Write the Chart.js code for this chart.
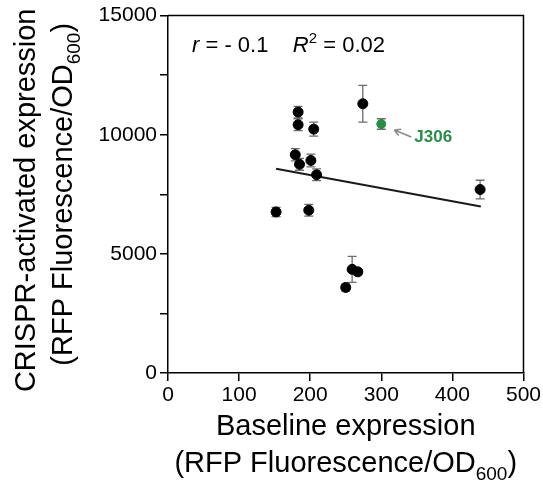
<!DOCTYPE html>
<html>
<head>
<meta charset="utf-8">
<script src="https://cdn.jsdelivr.net/npm/chart.js@4.4.1/dist/chart.umd.min.js"></script>
<style>
  html, body { margin: 0; padding: 0; background: #fff; }
  #wrap { width: 543px; height: 482px; }
</style>
</head>
<body>
<div id="wrap"><canvas id="c" width="543" height="482"></canvas></div>
<script>
// ---- data ----
const baseline  = [152, 183, 183, 205, 179, 185, 201, 209, 198, 274, 439, 250, 259, 267];
const activated = [6760, 10950, 10420, 10235, 9160, 8760, 8920, 8320, 6830, 11300, 7700, 3590, 4350, 4245];
const actErr    = [195, 240, 250, 295, 260, 250, 265, 250, 245, 770, 390, 150, 545, 110];

const j306X = [300];
const j306Y = [10450];
const j306Err = [220];
const j306Label = 'J306';

const trendX = [152, 440];
const trendY = [8570, 6990];

const xTicks = [0, 100, 200, 300, 400, 500];
const yTicks = [0, 5000, 10000, 15000];

const statText = { r: '- 0.1', R2: '0.02' };

const FONT = '"Liberation Sans", Arial, sans-serif';
const GREEN = '#2b8c4a';

function toPts(xs, ys) { return xs.map((x, i) => ({ x: x, y: ys[i] })); }

// error bars, drawn through the scales
const errorBarPlugin = {
  id: 'errbars',
  beforeDatasetsDraw(chart) {
    const { ctx, scales: { x, y } } = chart;
    const sets = [[baseline, activated, actErr], [j306X, j306Y, j306Err]];
    ctx.save();
    ctx.strokeStyle = '#6e6e6e';
    ctx.lineWidth = 1.3;
    sets.forEach(([xs, ys, es]) => {
      xs.forEach((xv, i) => {
        const px = x.getPixelForValue(xv);
        const top = y.getPixelForValue(ys[i] + es[i]);
        const bot = y.getPixelForValue(ys[i] - es[i]);
        ctx.beginPath();
        ctx.moveTo(px, top); ctx.lineTo(px, bot);
        ctx.moveTo(px - 4.5, top); ctx.lineTo(px + 4.5, top);
        ctx.moveTo(px - 4.5, bot); ctx.lineTo(px + 4.5, bot);
        ctx.stroke();
      });
    });
    ctx.restore();
  }
};

function drawRuns(ctx, runs, startX, y, align) {
  let total = 0;
  runs.forEach(r => { ctx.font = r.font; r.w = ctx.measureText(r.t).width; total += r.w; });
  let cx = align === 'center' ? startX - total / 2 : startX;
  runs.forEach(r => {
    ctx.font = r.font;
    ctx.fillText(r.t, cx, y + (r.dy || 0));
    cx += r.w;
  });
}

const textPlugin = {
  id: 'texts',
  afterDraw(chart) {
    const { ctx, chartArea: a, scales: { x, y } } = chart;
    ctx.save();
    // frame top/right
    ctx.strokeStyle = '#000';
    ctx.lineWidth = 1.5;
    ctx.beginPath();
    ctx.moveTo(a.left, a.top); ctx.lineTo(a.right, a.top); ctx.lineTo(a.right, a.bottom);
    ctx.stroke();

    ctx.fillStyle = '#000';
    ctx.textBaseline = 'alphabetic';
    ctx.textAlign = 'left';
    const big = '29px ' + FONT;
    const sub = '19px ' + FONT;

    // x title
    drawRuns(ctx, [{ t: 'Baseline expression', font: big }], (a.left + a.right) / 2, 435, 'center');
    drawRuns(ctx, [
      { t: '(RFP Fluorescence/OD', font: big },
      { t: '600', font: sub, dy: 8 },
      { t: ')', font: big }
    ], (a.left + a.right) / 2, 472, 'center');

    // y title
    ctx.save();
    ctx.translate(0, (a.top + a.bottom) / 2);
    ctx.rotate(-Math.PI / 2);
    drawRuns(ctx, [{ t: 'CRISPR-activated expression', font: big }], -6, 35, 'center');
    drawRuns(ctx, [
      { t: '(RFP Fluorescence/OD', font: big },
      { t: '600', font: sub, dy: 8 },
      { t: ')', font: big }
    ], 0, 72, 'center');
    ctx.restore();

    // stats
    const sf = '22px ' + FONT;
    const si = 'italic 22px ' + FONT;
    drawRuns(ctx, [
      { t: 'r', font: si },
      { t: ' = ' + statText.r + '    ', font: sf },
      { t: 'R', font: si },
      { t: '2', font: '15px ' + FONT, dy: -9 },
      { t: ' = ' + statText.R2, font: sf }
    ], a.left + 24, a.top + 36, 'left');

    // J306 annotation
    const tipX = x.getPixelForValue(j306X[0]) + 13, tipY = y.getPixelForValue(j306Y[0]) + 6;
    const tailX = tipX + 17, tailY = tipY + 7;
    ctx.strokeStyle = '#8a8a8a';
    ctx.lineWidth = 1.5;
    ctx.beginPath();
    ctx.moveTo(tailX, tailY); ctx.lineTo(tipX, tipY);
    const ang = Math.atan2(tipY - tailY, tipX - tailX);
    ctx.moveTo(tipX, tipY); ctx.lineTo(tipX - 7 * Math.cos(ang - 0.5), tipY - 7 * Math.sin(ang - 0.5));
    ctx.moveTo(tipX, tipY); ctx.lineTo(tipX - 7 * Math.cos(ang + 0.5), tipY - 7 * Math.sin(ang + 0.5));
    ctx.stroke();
    ctx.fillStyle = GREEN;
    ctx.font = 'bold 17px ' + FONT;
    ctx.textBaseline = 'middle';
    ctx.fillText(j306Label, tailX + 3, tailY);
    ctx.restore();
  }
};

new Chart(document.getElementById('c'), {
  type: 'scatter',
  data: {
    datasets: [
      {
        type: 'line',
        data: toPts(trendX, trendY),
        borderColor: '#1a1a1a',
        borderWidth: 2,
        pointRadius: 0,
        fill: false,
        order: 3
      },
      {
        data: toPts(baseline, activated),
        backgroundColor: '#000',
        borderColor: '#000',
        pointRadius: 5,
        order: 1
      },
      {
        data: toPts(j306X, j306Y),
        backgroundColor: GREEN,
        borderColor: GREEN,
        pointRadius: 4.5,
        order: 1
      }
    ]
  },
  options: {
    responsive: false,
    animation: false,
    events: [],
    layout: { padding: { left: 0, top: 15, right: 18, bottom: 0 } },
    plugins: { legend: { display: false }, tooltip: { enabled: false } },
    scales: {
      x: {
        type: 'linear',
        min: 0, max: 500,
        afterBuildTicks: s => { s.ticks = xTicks.map(v => ({ value: v })); },
        afterFit: s => { s.height = 109; },
        ticks: { color: '#000', font: { size: 21, family: FONT }, padding: 2, maxRotation: 0 },
        grid: { drawOnChartArea: false, drawTicks: true, tickLength: 8, color: '#000', lineWidth: 1.5 },
        border: { color: '#000', width: 1.5 }
      },
      y: {
        type: 'linear',
        min: 0, max: 15000,
        afterBuildTicks: s => {
          const t = [];
          for (let v = 0; v <= 15000; v += 2500) t.push({ value: v });
          s.ticks = t;
        },
        afterFit: s => { s.width = 168; },
        ticks: {
          color: '#000', font: { size: 21, family: FONT }, padding: 3,
          callback: v => (yTicks.includes(v) ? String(v) : '')
        },
        grid: { drawOnChartArea: false, drawTicks: true, tickLength: 8, color: '#000', lineWidth: 1.5 },
        border: { color: '#000', width: 1.5 }
      }
    }
  },
  plugins: [errorBarPlugin, textPlugin]
});
</script>
</body>
</html>
